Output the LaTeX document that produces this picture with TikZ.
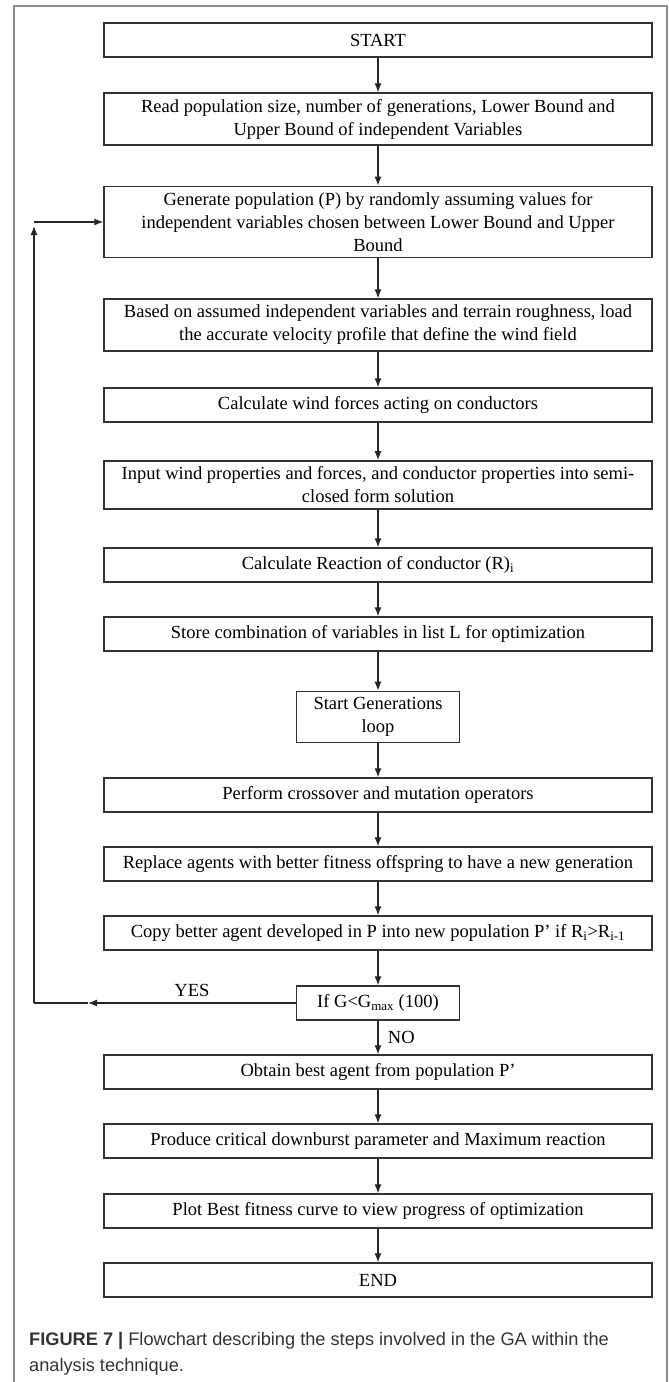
\documentclass[tikz,border=0pt]{standalone}
\usepackage{fontspec}
\setmainfont{Liberation Serif}
\newfontfamily\capfont{Liberation Sans}
\usetikzlibrary{arrows.meta}
\definecolor{boxline}{HTML}{333333}
\definecolor{framegray}{HTML}{8C8C8C}
\definecolor{captext}{HTML}{333333}
\tikzset{
  stepbox/.style={draw=boxline, line width=1.4pt, minimum width=548pt, minimum height=34pt, inner xsep=4pt, inner ysep=6pt, align=center, font=\fontsize{18.5}{23}\selectfont},
  smallbox/.style={stepbox, minimum width=163pt},
  flow/.style={-{Latex[length=9pt,width=7pt]}, line width=1.2pt, draw=black!85},
  loopline/.style={line width=1.2pt, draw=black!85},
}

\begin{document}
\begin{tikzpicture}[x=1pt, y=-1pt]
        \useasboundingbox (0,0) rectangle (669,1382);
        \draw[framegray, line width=1.6pt] (14,1382) -- (14,6) -- (667,6) -- (667,1382);

        \node[stepbox] (start) at (378,40) {START};
        \node[stepbox] (read) at (378,119) {Read population size, number of generations, Lower Bound and\\Upper Bound of independent Variables};
        \node[stepbox] (gen) at (378,222) {Generate population (P) by randomly assuming values for\\independent variables chosen between Lower Bound and Upper\\Bound};
        \node[stepbox] (based) at (378,325) {Based on assumed independent variables and terrain roughness, load\\the accurate velocity profile that define the wind field};
        \node[stepbox] (wind) at (378,405) {Calculate wind forces acting on conductors};
        \node[stepbox] (input) at (378,485) {Input wind properties and forces, and conductor properties into semi-\\closed form solution};
        \node[stepbox] (react) at (378,565) {Calculate Reaction of conductor (R)\textsubscript{i}};
        \node[stepbox] (store) at (378,634) {Store combination of variables in list L for optimization};
        \node[smallbox] (loopstart) at (378,717) {Start Generations\\loop};
        \node[stepbox] (cross) at (378,795) {Perform crossover and mutation operators};
        \node[stepbox] (replace) at (378,864) {Replace agents with better fitness offspring to have a new generation};
        \node[stepbox] (copy) at (378,933) {Copy better agent developed in P into new population P’ if R\textsubscript{i}>R\textsubscript{i-1}};
        \node[smallbox] (check) at (378,1003) {If G<G\textsubscript{max} (100)};
        \node[stepbox] (best) at (378,1072) {Obtain best agent from population P’};
        \node[stepbox] (produce) at (378,1141) {Produce critical downburst parameter and Maximum reaction};
        \node[stepbox] (plot) at (378,1211) {Plot Best fitness curve to view progress of optimization};
        \node[stepbox] (end) at (378,1280) {END};

        \draw[flow] (start) -- (read);
        \draw[flow] (read) -- (gen);
        \draw[flow] (gen) -- (based);
        \draw[flow] (based) -- (wind);
        \draw[flow] (wind) -- (input);
        \draw[flow] (input) -- (react);
        \draw[flow] (react) -- (store);
        \draw[flow] (store) -- (loopstart);
        \draw[flow] (loopstart) -- (cross);
        \draw[flow] (cross) -- (replace);
        \draw[flow] (replace) -- (copy);
        \draw[flow] (copy) -- (check);
        \draw[flow] (check) -- node[right, xshift=6pt, font=\fontsize{18.5}{23}\selectfont]{NO} (best);
        \draw[flow] (best) -- (produce);
        \draw[flow] (produce) -- (plot);
        \draw[flow] (plot) -- (end);

        \coordinate (yestip) at (88,1003);
        \coordinate (loopcorner) at (34,1003);
        \coordinate (uptip) at (34,226);
        \coordinate (looptop) at (34,222);
        \draw[flow] (check.west) -- node[above, pos=0.5, yshift=2pt, font=\fontsize{18.5}{23}\selectfont]{YES} (yestip);
        \draw[loopline] (yestip) -- (loopcorner);
        \draw[flow] (loopcorner) -- (uptip);
        \draw[flow] (looptop) -- (gen.west);

        \node[anchor=north west, align=left, inner sep=0pt, text=captext, font=\capfont\fontsize{18.2}{26}\selectfont] (caption) at (29,1332) {\textbf{FIGURE 7 |} Flowchart describing the steps involved in the GA within the\\analysis technique.};
\end{tikzpicture}
\end{document}
